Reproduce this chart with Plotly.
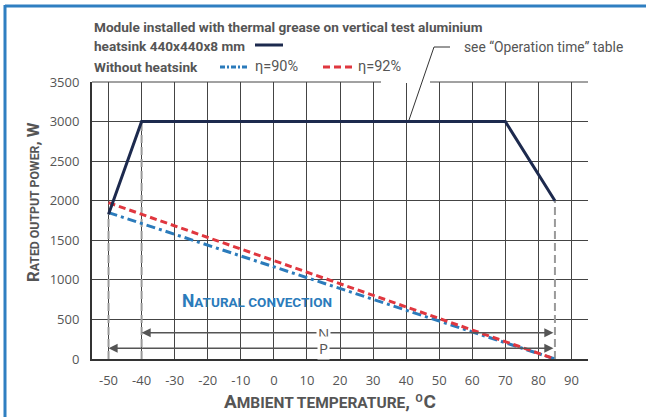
import plotly.graph_objects as go

# ---- data ----
temp_heatsink = [-50, -40, 70, 85]
power_heatsink = [1830, 3000, 3000, 2000]
temp_eta90 = [-50, 85]
power_eta90 = [1850, 0]
temp_eta92 = [-50, 85]
power_eta92 = [1975, 0]
limit_temps = [-50, -40, 85]
limit_powers = [1830, 3000, 2000]
x_ticks = list(range(-50, 91, 10))
x_tick_labels = [str(v) for v in x_ticks]  # plain hyphen minus as in the source
y_ticks = list(range(0, 3501, 500))
range_N = [-40, 85]
level_N = 332
range_P = [-50, 85]
level_P = 135

# ---- layout helpers (window pixel -> paper) ----
L, R, T, B = 92, 588, 82, 359
W, H = 646, 417
def px(x):
    return (x - L) / (R - L)
def py(y):
    return (B - y) / (B - T)

GREY = "#555555"
NAVY = "#1d2a4e"
BLUE = "#2b7bbb"
RED = "#e0373f"
FONT = "Roboto, Liberation Sans Narrow, sans-serif"

fig = go.Figure()

# dashed limit verticals
for t, p in zip(limit_temps, limit_powers):
    fig.add_trace(go.Scatter(x=[t, t], y=[0, p], mode="lines",
                             line=dict(color="#9a9a9a", width=2, dash="8px,4px"),
                             hoverinfo="skip", showlegend=False))

fig.add_trace(go.Scatter(x=temp_eta90, y=power_eta90, mode="lines",
                         line=dict(color=BLUE, width=3, dash="9px,4px,3px,4px"),
                         showlegend=False))
fig.add_trace(go.Scatter(x=temp_eta92, y=power_eta92, mode="lines",
                         line=dict(color=RED, width=3, dash="7px,4px"),
                         showlegend=False))
fig.add_trace(go.Scatter(x=temp_heatsink, y=power_heatsink, mode="lines",
                         line=dict(color=NAVY, width=3),
                         showlegend=False))

ann = []
# N / P arrows
for rng, lvl, lab in [(range_N, level_N, "N"), (range_P, level_P, "P")]:
    ann.append(dict(x=rng[0], y=lvl, ax=rng[1], ay=lvl, xref="x", yref="y",
                    axref="x", ayref="y", text="", showarrow=True,
                    arrowside="end+start", arrowhead=2, arrowsize=1.3,
                    arrowwidth=1.4, arrowcolor=GREY, standoff=0, startstandoff=0))
    ann.append(dict(x=15, y=lvl, xref="x", yref="y", text=lab, showarrow=False,
                    bgcolor="white", borderpad=1,
                    font=dict(family="Open Sans, sans-serif", size=15, color=GREY)))

# Natural convection
ann.append(dict(x=-28.4, y=735, xref="x", yref="y", xanchor="left", yanchor="middle",
                text="N<span style='font-size:13.5px'>ATURAL CONVECTION</span>",
                showarrow=False,
                font=dict(family=FONT, size=17.5, color=BLUE, weight="bold")))

# axis titles
ann.append(dict(x=px(33), y=py(202), xref="paper", yref="paper", textangle=-90,
                text="R<span style='font-size:12.3px'>ATED OUTPUT POWER</span>, W",
                showarrow=False, xanchor="center", yanchor="middle",
                font=dict(family=FONT, size=16.8, color=GREY, weight="bold")))
ann.append(dict(x=px(330), y=py(401), xref="paper", yref="paper",
                text="A<span style='font-size:15.5px'>MBIENT TEMPERATURE</span>, ºC",
                showarrow=False, xanchor="center", yanchor="middle",
                font=dict(family=FONT, size=19, color=GREY, weight="bold")))

# legend texts
leg_font = dict(family=FONT, size=13.6, color=GREY, weight="bold")
ann.append(dict(x=px(91.5), y=py(27), xref="paper", yref="paper", xanchor="left",
                yanchor="middle", showarrow=False,
                text="Module installed with thermal grease on vertical test aluminium",
                font=leg_font))
ann.append(dict(x=px(91.5), y=py(46), xref="paper", yref="paper", xanchor="left",
                yanchor="middle", showarrow=False,
                text="heatsink 440x440x8 mm", font=leg_font))
ann.append(dict(x=px(91.5), y=py(67), xref="paper", yref="paper", xanchor="left",
                yanchor="middle", showarrow=False,
                text="Without heatsink", font=leg_font))
ann.append(dict(x=px(253), y=py(67), xref="paper", yref="paper", xanchor="left",
                yanchor="middle", showarrow=False, text="η=90%",
                font=dict(family=FONT, size=14.5, color=GREY)))
ann.append(dict(x=px(356), y=py(67), xref="paper", yref="paper", xanchor="left",
                yanchor="middle", showarrow=False, text="η=92%",
                font=dict(family=FONT, size=14.5, color=GREY)))
ann.append(dict(x=px(462), y=py(47), xref="paper", yref="paper", xanchor="left",
                yanchor="middle", showarrow=False, text="see “Operation time” table",
                font=dict(family=FONT, size=13.8, color=GREY)))

shapes = []
# legend samples
shapes.append(dict(type="line", xref="paper", yref="paper", x0=px(255), x1=px(283),
                   y0=py(45), y1=py(45), line=dict(color=NAVY, width=3)))
shapes.append(dict(type="line", xref="paper", yref="paper", x0=px(220), x1=px(249),
                   y0=py(67), y1=py(67), line=dict(color=BLUE, width=3, dash="5px,2px,2px,2px")))
shapes.append(dict(type="line", xref="paper", yref="paper", x0=px(323), x1=px(353),
                   y0=py(67), y1=py(67), line=dict(color=RED, width=3, dash="7px,4px")))
# top grid line and gap
shapes.append(dict(type="line", xref="paper", yref="paper", x0=0, x1=1, y0=1, y1=1,
                   line=dict(color="#444444", width=1)))
shapes.append(dict(type="line", xref="paper", yref="paper", x0=px(381), x1=px(430),
                   y0=1, y1=1, line=dict(color="white", width=2)))
# leader line
shapes.append(dict(type="path", xref="paper", yref="paper",
                   path=f"M {px(409)} {py(120)} L {px(434)} {py(47)} L {px(450)} {py(47)}",
                   line=dict(color="#333333", width=1)))
# frame
shapes.append(dict(type="line", xref="paper", yref="paper", x0=px(5), x1=px(W + 5),
                   y0=py(6), y1=py(6), line=dict(color="#2f7fc1", width=3)))
shapes.append(dict(type="line", xref="paper", yref="paper", x0=px(5), x1=px(5),
                   y0=py(5), y1=py(H + 5), line=dict(color="#2f7fc1", width=3)))

fig.update_layout(
    width=W, height=H,
    margin=dict(l=L, r=W - R, t=T, b=H - B),
    paper_bgcolor="white", plot_bgcolor="white",
    annotations=ann, shapes=shapes, showlegend=False,
    xaxis=dict(range=[-55, 95], tickvals=x_ticks, ticktext=x_tick_labels, showgrid=True,
               gridcolor="#444444", gridwidth=1, zeroline=False,
               showline=True, linecolor="#333333", linewidth=2, ticks="",
               ticklabelstandoff=8,
               tickfont=dict(family="Open Sans, sans-serif", size=13, color=GREY)),
    yaxis=dict(range=[0, 3500], tickvals=y_ticks, showgrid=True,
               gridcolor="#444444", gridwidth=1, zeroline=False,
               showline=True, linecolor="#333333", linewidth=2, ticks="",
               ticklabelstandoff=8,
               tickfont=dict(family="Open Sans, sans-serif", size=13, color=GREY)),
)

fig.write_html("out.html", config={"displayModeBar": False},
               post_script="document.body.style.margin='0';document.body.style.overflow='hidden';")
